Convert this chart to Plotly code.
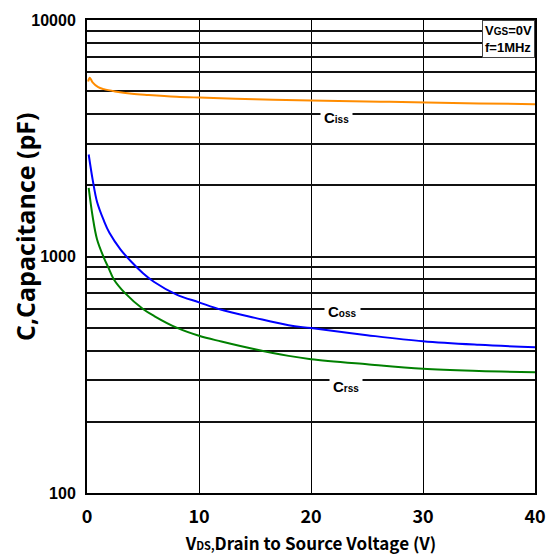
import plotly.graph_objects as go

# ---- data ----
ciss_v = [0.1, 0.25, 0.5, 1, 1.5, 2.5, 4, 5.5, 8, 10, 15, 20, 27, 35, 40]
ciss_c = [5490, 5700, 5450, 5200, 5100, 4990, 4880, 4820, 4740, 4700, 4620, 4570, 4510, 4440, 4405]

coss_v = [0.15, 0.5, 0.9, 1.5, 2, 3, 4, 5, 6, 8, 10, 12, 15, 18, 20, 25, 30, 35, 40]
coss_c = [2700, 2120, 1700, 1420, 1260, 1070, 945, 850, 780, 690, 640, 595, 550, 512, 498, 465, 438, 423, 413]

crss_v = [0.15, 0.5, 0.9, 1.5, 1.9, 2.4, 3.4, 5, 6, 8, 10, 12, 15, 18, 20, 25, 30, 35, 40]
crss_c = [1950, 1480, 1180, 990, 900, 800, 700, 600, 560, 500, 462, 437, 405, 380, 368, 350, 335, 328, 324]

x_ticks = [0, 10, 20, 30, 40]
y_grid = [100, 200, 300, 400, 500, 600, 700, 800, 900,
          1000, 2000, 3000, 4000, 5000, 6000, 7000, 8000, 9000, 10000]
y_labels = {100: "100", 1000: "1000", 10000: "10000"}

fig = go.Figure()
fig.add_trace(go.Scatter(x=ciss_v, y=ciss_c, mode="lines", line=dict(color="#FF8C00", width=2, shape="spline")))
fig.add_trace(go.Scatter(x=coss_v, y=coss_c, mode="lines", line=dict(color="#0000FF", width=2, shape="spline")))
fig.add_trace(go.Scatter(x=crss_v, y=crss_c, mode="lines", line=dict(color="#008000", width=2, shape="spline")))

lab_font = dict(family="Liberation Sans", size=15, color="black", weight="bold")
def lab(sub):
    return "C<span style='font-size:10px'>" + sub + "</span>"

for txt, xv, yv in [(lab("iss"), 22.3, 3.586), (lab("oss"), 22.8, 2.767), (lab("rss"), 23.1, 2.450)]:
    fig.add_annotation(x=xv, y=yv, xref="x", yref="y", text=txt, showarrow=False,
                       bgcolor="white", font=lab_font, borderpad=3)

fig.add_annotation(x=1, y=1, xref="paper", yref="paper", xanchor="right", yanchor="top",
                   text="V<span style='font-size:10px'>GS</span>=0V<br>f=1MHz",
                   showarrow=False, align="left", bgcolor="white",
                   bordercolor="#444", borderwidth=1, borderpad=2,
                   font=dict(family="Liberation Sans", size=13, color="black", weight="bold"))

# y-axis title (placed as in the reference, above the plot centre)
fig.add_annotation(x=-0.14, y=0.563, xref="paper", yref="paper", xanchor="center", yanchor="middle",
                   text="C,Capacitance (pF)", textangle=-90, showarrow=False,
                   font=dict(family="Open Sans", size=25, color="black", weight="bold"))

fig.update_layout(
    width=553, height=558,
    margin=dict(l=87, r=7, t=20, b=64),
    paper_bgcolor="white", plot_bgcolor="white",
    showlegend=False,
    xaxis=dict(range=[0, 40], tickvals=x_ticks, showgrid=True, gridcolor="black", gridwidth=1.2,
               zeroline=False, showline=True, linecolor="black", linewidth=2, mirror=True,
               ticks="", ticklabelstandoff=6, ticklabeloverflow="allow",
               tickfont=dict(family="Noto Sans CJK SC", size=18, color="black", weight="bold"),
               title=dict(text="V<span style='font-size:11px'>DS,</span>Drain to Source Voltage (V)",
                          font=dict(family="Noto Sans CJK SC", size=17, color="black", weight="bold"),
                          standoff=12)),
    yaxis=dict(type="log", range=[2, 4], tickvals=y_grid,
               ticktext=[y_labels.get(v, "") for v in y_grid],
               showgrid=True, gridcolor="#111", gridwidth=1.6,
               zeroline=False, showline=True, linecolor="black", linewidth=2, mirror=True,
               ticks="", ticklabelstandoff=6, ticklabeloverflow="allow",
               tickfont=dict(family="Liberation Sans", size=16, color="black", weight="bold")),
)

fig.write_html("out.html")
